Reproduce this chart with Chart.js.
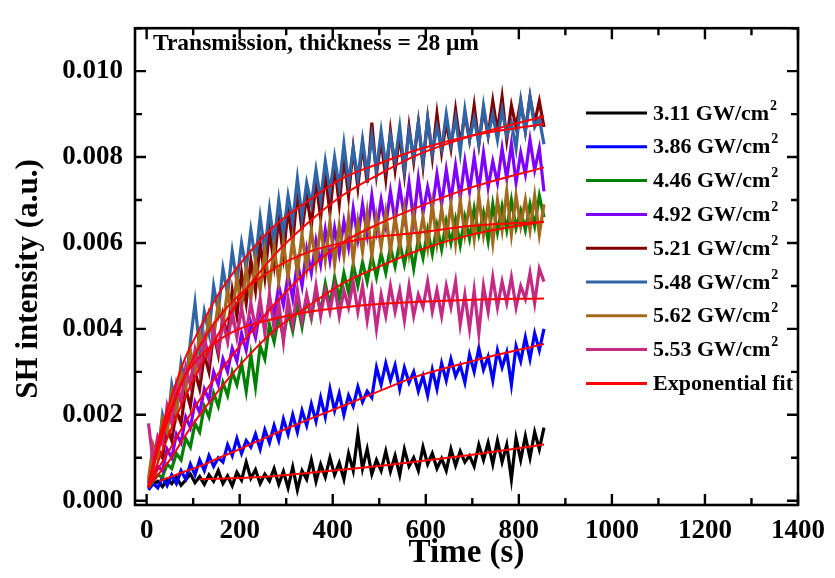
<!DOCTYPE html>
<html>
<head>
<meta charset="utf-8">
<script src="https://cdn.jsdelivr.net/npm/chart.js@4.4.1/dist/chart.umd.min.js"></script>
<style>
  body { margin: 0; background: #fff; }
</style>
</head>
<body>
<canvas id="sh" width="835" height="578"></canvas>
<script>
// time axis of the measured traces (s)
const timeS = [4,14,24,34,44,54,64,74,84,94,104,114,124,134,144,154,164,174,184,194,
  204,214,224,234,244,254,264,274,284,294,304,314,324,334,344,354,364,374,384,394,
  404,414,424,434,444,454,464,474,484,494,504,514,524,534,544,554,564,574,584,594,
  604,614,624,634,644,654,664,674,684,694,704,714,724,734,744,754,764,774,784,794,
  804,814,824,834,844,854];

// SH intensity, in units of 1e-3 a.u.
const sh311 = [0.30,0.38,0.45,0.33,0.50,0.40,0.55,0.36,0.48,0.62,
  0.42,0.56,0.38,0.60,0.45,0.70,0.40,0.58,0.35,0.66,
  0.48,0.90,0.52,0.72,0.40,0.62,0.46,0.75,0.38,0.68,
  0.30,0.78,0.25,0.70,0.50,0.95,0.45,0.85,0.55,1.00,
  0.60,0.88,0.50,1.10,0.70,1.55,0.75,1.20,0.62,0.95,
  0.70,1.15,0.68,1.05,0.60,1.20,0.80,1.00,0.70,1.25,
  0.85,1.10,0.75,0.98,0.70,1.20,0.82,1.15,0.90,1.05,
  0.80,1.30,0.95,1.35,0.85,1.40,0.90,1.30,0.50,1.45,
  0.95,1.50,1.00,1.60,1.20,1.70];
const sh386 = [0.25,0.40,0.30,0.55,0.35,0.60,0.40,0.70,0.50,0.85,
  0.60,0.95,0.70,1.05,0.80,1.00,0.90,1.30,1.05,1.45,
  1.10,1.40,1.25,1.55,1.20,1.65,1.35,1.75,1.40,1.90,
  1.55,2.00,1.60,2.10,1.75,2.25,1.85,2.40,1.95,2.60,
  2.10,2.50,2.00,2.45,2.20,2.65,2.30,2.55,2.40,3.10,
  2.70,3.20,2.80,3.15,2.60,3.10,2.75,3.00,2.55,2.90,
  2.45,3.05,2.60,3.20,2.80,3.30,2.90,3.15,2.75,3.40,
  3.00,3.55,3.05,3.35,2.80,3.50,3.10,3.45,2.70,3.60,
  3.25,3.80,3.30,3.90,3.50,4.00];
const sh446 = [0.30,0.45,0.60,0.55,0.85,0.75,1.10,0.95,1.45,1.25,
  1.80,1.60,2.20,1.95,2.50,2.20,2.75,2.45,3.00,2.70,
  3.20,2.55,3.40,2.65,3.60,3.30,4.10,3.70,4.30,3.80,
  4.40,3.95,4.60,4.05,4.70,4.25,4.90,4.40,5.05,4.55,
  5.20,4.70,5.30,4.85,5.50,5.00,5.55,5.10,5.70,5.20,
  5.75,5.30,5.90,5.45,6.00,5.50,6.05,5.40,6.10,5.65,
  6.30,5.75,6.40,5.85,6.50,6.00,6.55,5.95,6.60,6.10,
  6.80,6.20,6.70,6.05,6.90,6.25,6.85,6.30,7.00,6.35,
  6.75,6.30,6.90,6.40,7.10,6.60];
const sh492 = [0.40,0.55,0.80,0.70,1.20,1.00,1.55,1.35,1.95,1.70,
  2.30,2.05,2.60,2.35,3.00,2.70,3.30,3.00,3.55,3.25,
  3.90,3.50,4.15,3.80,4.45,4.05,4.70,4.30,5.00,4.55,
  5.25,4.70,5.55,5.00,5.85,5.30,6.05,5.50,6.30,5.60,
  6.35,5.75,6.50,5.90,6.80,6.10,6.90,6.20,7.10,6.30,
  7.00,6.40,7.20,6.50,7.30,6.60,7.40,6.50,7.50,6.70,
  7.30,6.80,7.60,6.90,7.70,7.00,7.80,7.05,7.90,7.20,
  8.00,7.25,8.10,7.30,7.90,7.40,8.20,7.50,8.30,7.40,
  8.10,7.60,8.40,7.70,8.20,7.20];
const sh521 = [0.30,0.80,1.20,1.00,1.70,1.40,2.10,1.80,2.60,2.20,
  3.00,2.60,3.40,3.00,3.90,3.40,4.30,3.80,4.90,4.30,
  5.30,4.60,5.60,4.90,6.00,5.20,6.30,5.50,6.60,5.70,
  6.80,6.00,7.20,6.30,7.10,6.40,7.40,6.60,7.60,6.70,
  7.80,6.90,8.00,7.10,8.20,7.30,8.30,7.40,8.80,7.60,
  8.40,7.50,8.60,7.70,8.50,7.60,8.70,7.90,8.80,7.80,
  8.90,8.00,9.00,8.10,8.80,8.20,9.10,8.30,9.00,8.40,
  9.20,8.30,9.10,8.50,9.30,8.60,9.40,8.40,9.20,8.70,
  9.30,8.60,9.40,8.80,9.30,8.70];
const sh548 = [0.40,1.20,1.00,2.00,1.60,2.70,2.20,3.20,2.70,3.70,
  4.60,3.50,4.40,3.90,5.00,4.40,5.40,4.80,5.80,5.10,
  6.00,5.40,6.30,5.60,6.60,5.80,6.80,6.00,7.00,6.20,
  7.10,6.50,7.50,6.60,7.40,6.90,7.70,7.00,7.90,7.20,
  8.00,7.30,8.30,7.40,8.20,7.50,8.40,7.60,8.50,7.70,
  8.60,7.80,8.50,7.90,8.70,7.70,8.60,8.00,8.80,7.90,
  8.90,8.10,8.70,8.20,9.00,8.30,8.90,8.10,9.10,8.40,
  8.90,8.30,9.20,8.50,9.00,8.40,9.10,8.50,8.80,8.20,
  9.30,8.60,9.40,8.70,8.90,8.30];
const sh562 = [0.50,1.30,1.00,1.90,1.60,2.50,2.00,3.00,2.60,3.50,
  3.00,3.90,3.50,4.30,3.80,4.60,4.10,4.90,4.30,5.20,
  4.50,5.40,4.70,5.60,4.90,5.80,5.00,5.90,5.10,6.00,
  5.20,6.10,5.30,6.20,5.40,6.30,5.50,6.40,5.60,6.50,
  5.50,6.40,5.70,6.60,5.60,6.50,5.80,6.70,5.70,6.60,
  5.90,6.70,5.80,6.60,5.90,6.80,5.80,6.70,6.00,6.60,
  5.90,6.90,6.00,6.80,6.10,6.90,6.00,7.00,6.20,6.90,
  6.10,7.10,6.20,6.90,6.00,7.00,6.30,7.20,6.20,7.10,
  6.40,7.00,6.30,7.10,6.20,6.90];
const sh553 = [1.80,0.90,1.50,1.30,2.20,1.80,2.70,2.30,3.10,2.70,
  3.50,3.00,3.80,3.30,4.00,3.50,4.20,3.70,4.40,3.80,
  4.50,3.90,4.60,4.00,4.70,3.90,4.80,4.00,4.60,3.70,
  4.70,4.10,4.90,4.20,4.80,4.30,5.00,4.30,4.90,4.40,
  5.00,4.30,4.90,4.50,5.10,4.40,5.00,4.20,4.90,4.00,
  4.80,4.30,5.00,4.40,4.90,4.20,5.00,4.30,4.80,4.50,
  5.10,4.40,4.90,4.30,5.00,4.50,5.10,4.10,4.80,4.00,
  4.90,3.90,5.00,4.40,5.20,4.50,5.10,4.60,5.20,4.50,
  5.00,4.70,5.30,4.60,5.40,5.10];

// exponential fits (same units)
const fitTimeS = [4, 28, 50, 82, 114, 150, 200, 273, 350, 420, 500, 582, 700, 854];
const fit311 = [null, null, null, null, 0.50, 0.51, 0.53, 0.57, 0.65, 0.72, 0.81, 0.91, 1.07, 1.31];
const fit386 = [null, 0.46, 0.55, 0.68, 0.80, 0.97, 1.20, 1.55, 1.90, 2.20, 2.55, 2.90, 3.25, 3.65];
const fit446 = [0.30, 0.65, 0.95, 1.50, 2.00, 2.50, 3.15, 3.95, 4.55, 5.05, 5.45, 5.82, 6.20, 6.50];
const fit492 = [0.35, 0.80, 1.20, 1.80, 2.35, 2.90, 3.60, 4.55, 5.40, 6.00, 6.45, 6.83, 7.30, 7.76];
const fit521 = [0.35, 1.00, 1.60, 2.40, 3.10, 3.80, 4.70, 5.70, 6.50, 7.10, 7.60, 8.05, 8.50, 8.95];
const fit548 = [0.40, 1.50, 2.30, 3.30, 4.00, 4.73, 5.50, 6.38, 7.00, 7.50, 7.85, 8.17, 8.50, 8.77];
const fit562 = [0.40, 1.30, 2.00, 2.90, 3.60, 4.20, 4.80, 5.40, 5.80, 6.00, 6.15, 6.24, 6.40, 6.49];
const fit553 = [0.40, 1.40, 2.10, 2.90, 3.35, 3.70, 4.00, 4.23, 4.40, 4.50, 4.58, 4.63, 4.68, 4.71];

const xTicks = [0, 200, 400, 600, 800, 1000, 1200, 1400];
const yTicks = [0, 2, 4, 6, 8, 10]; // 0.000 ... 0.010

const seriesLabels = ["3.11 GW/cm²", "3.86 GW/cm²", "4.46 GW/cm²", "4.92 GW/cm²",
  "5.21 GW/cm²", "5.48 GW/cm²", "5.62 GW/cm²", "5.53 GW/cm²"];
const seriesColors = ["#000000", "#0000ff", "#008000", "#8000ff",
  "#800000", "#2f65a7", "#a5691c", "#c42a84"];
const seriesData = [sh311, sh386, sh446, sh492, sh521, sh548, sh562, sh553];
const fitData = [fit311, fit386, fit446, fit492, fit521, fit548, fit562, fit553];
const fitLabel = "Exponential fit";
const fitColor = "#ff0000";
const noteText = "Transmission, thickness = 28 μm";

const serif = "'Liberation Serif', 'Times New Roman', serif";

function pairs(xs, ys) {
  return xs.map(function(x, i) { return { x: x, y: ys[i] }; });
}

var datasets = [];
seriesData.forEach(function(vals, i) {
  datasets.push({
    label: seriesLabels[i],
    data: pairs(timeS, vals),
    borderColor: seriesColors[i],
    borderWidth: 3.2,
    pointRadius: 0,
    tension: 0,
    order: 8 - i // later series sit on top, like the original
  });
});
fitData.forEach(function(vals, i) {
  datasets.push({
    label: fitLabel,
    data: pairs(fitTimeS, vals),
    borderColor: fitColor,
    borderWidth: 2,
    pointRadius: 0,
    cubicInterpolationMode: "monotone",
    spanGaps: false,
    order: 0
  });
});

// frame with inward ticks on all four sides, legend, note and y title
const decorations = {
  id: "decorations",
  afterDraw(chart) {
    const ctx = chart.ctx;
    const a = chart.chartArea;
    const x = chart.scales.x, y = chart.scales.y;
    ctx.save();
    ctx.strokeStyle = "#000";
    ctx.lineWidth = 2.6;
    ctx.strokeRect(a.left, a.top, a.right - a.left, a.bottom - a.top);

    ctx.lineWidth = 2.4;
    ctx.beginPath();
    for (let v = 0; v <= 1400; v += 100) {
      const px = x.getPixelForValue(v);
      const len = v % 200 === 0 ? 11 : 7;
      ctx.moveTo(px, a.bottom); ctx.lineTo(px, a.bottom - len);
      ctx.moveTo(px, a.top); ctx.lineTo(px, a.top + len);
    }
    for (let v = 0; v <= 11; v += 1) {
      const py = y.getPixelForValue(v);
      const len = v % 2 === 0 ? 11 : 7;
      ctx.moveTo(a.left, py); ctx.lineTo(a.left + len, py);
      ctx.moveTo(a.right, py); ctx.lineTo(a.right - len, py);
    }
    ctx.stroke();

    // note in the upper left corner
    ctx.fillStyle = "#000";
    ctx.font = "bold 23.5px " + serif;
    ctx.textBaseline = "alphabetic";
    ctx.textAlign = "left";
    ctx.fillText(noteText, 153, 50);

    // y axis title
    ctx.save();
    ctx.translate(29, 279);
    ctx.rotate(-Math.PI / 2);
    ctx.textAlign = "center";
    ctx.textBaseline = "middle";
    ctx.font = "bold 31px " + serif;
    ctx.fillText("SH intensity (a.u.)", 0, 0);
    ctx.restore();

    // legend
    const items = seriesLabels.map(function(l, i) { return [l, seriesColors[i]]; });
    items.push([fitLabel, fitColor]);
    ctx.textBaseline = "middle";
    items.forEach(function(it, i) {
      const ry = 113 + i * 33.8;
      ctx.strokeStyle = it[1];
      ctx.lineWidth = 3;
      ctx.beginPath();
      ctx.moveTo(586, ry); ctx.lineTo(647, ry);
      ctx.stroke();
      ctx.fillStyle = "#000";
      let text = it[0];
      let sup = "";
      if (text.endsWith("²")) { text = text.slice(0, -1); sup = "2"; }
      ctx.font = "bold 22px " + serif;
      ctx.fillText(text, 653, ry + 1);
      if (sup) {
        const w = ctx.measureText(text).width;
        ctx.font = "bold 14px " + serif;
        ctx.fillText(sup, 653 + w + 1, ry - 7);
      }
    });
    ctx.restore();
  }
};

var ctx = document.getElementById("sh").getContext("2d");
var chart = new Chart(ctx, {
  type: "line",
  data: { datasets: datasets },
  options: {
    responsive: false,
    animation: false,
    devicePixelRatio: 1,
    layout: { padding: { top: 12, right: 29, left: 0, bottom: 0 } },
    plugins: {
      legend: { display: false },
      tooltip: { enabled: false }
    },
    scales: {
      x: {
        type: "linear",
        min: -25,
        max: 1400,
        grid: { display: false, drawTicks: false },
        border: { display: false },
        afterBuildTicks: function(scale) {
          scale.ticks = xTicks.map(function(v) { return { value: v }; });
        },
        ticks: {
          autoSkip: false,
          maxRotation: 0,
          padding: 10,
          color: "#000",
          font: { family: serif, size: 27, weight: "bold" },
          callback: function(v) { return String(v); }
        },
        title: {
          display: true,
          text: "Time (s)",
          color: "#000",
          font: { family: serif, size: 33, weight: "bold" },
          padding: { top: 0, bottom: 5 }
        },
        afterFit: function(scale) { scale.height = 73; }
      },
      y: {
        min: -0.1,
        max: 11,
        grid: { display: false, drawTicks: false },
        border: { display: false },
        afterBuildTicks: function(scale) {
          scale.ticks = yTicks.map(function(v) { return { value: v }; });
        },
        ticks: {
          autoSkip: false,
          padding: 12,
          color: "#000",
          font: { family: serif, size: 27, weight: "bold" },
          callback: function(v) { return (v / 1000).toFixed(3); }
        },
        afterFit: function(scale) { scale.width = 135; }
      }
    }
  },
  plugins: [decorations]
});
</script>
</body>
</html>
